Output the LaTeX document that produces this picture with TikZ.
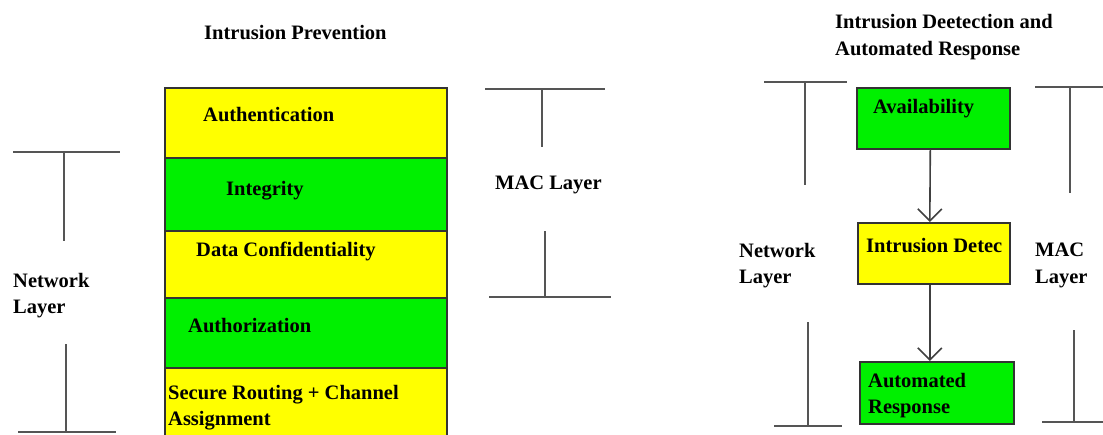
\documentclass[tikz,border=0pt]{standalone}
\usepackage{fontspec}
\setmainfont{Liberation Serif}
\usetikzlibrary{arrows.meta}
\definecolor{layeryellow}{RGB}{255,255,0}
\definecolor{layergreen}{RGB}{0,240,0}
\definecolor{bracketgray}{RGB}{85,85,85}
\begin{document}
\begin{tikzpicture}[x=1pt,y=-1pt,
  lbl/.style={font=\fontsize{20.5}{27}\selectfont\bfseries, inner sep=0pt, anchor=base west, align=left},
  layer/.style={draw=black!80, line width=1.6pt, inner sep=0pt, anchor=north west, minimum width=282pt},
  stepbox/.style={draw=black!80, line width=1.6pt, inner sep=0pt, anchor=north west},
  brk/.style={draw=bracketgray, line width=1.6pt},
  arr/.style={draw=black!75, line width=1.6pt, -{Straight Barb[length=12pt,width=24pt,line width=1.6pt]}}]
\clip (0,0) rectangle (1103,434);
\fill[white] (0,0) rectangle (1103,434);

% ---- Intrusion prevention stack ----
\node[lbl] (tprev) at (204,39) {Intrusion Prevention};
\node[layer, fill=layeryellow, minimum height=70pt] (auth)  at (164,87)  {};
\node[layer, fill=layergreen,  minimum height=73pt] (integ) at (164,157) {};
\node[layer, fill=layeryellow, minimum height=67pt] (conf)  at (164,230) {};
\node[layer, fill=layergreen,  minimum height=70pt] (authz) at (164,297) {};
\node[layer, fill=layeryellow, minimum height=80pt] (route) at (164,367) {};
\node[lbl] (tauth)  at (203,121) {Authentication};
\node[lbl] (tinteg) at (226,195) {Integrity};
\node[lbl] (tconf)  at (196,256) {Data Confidentiality};
\node[lbl] (tauthz) at (188,332) {Authorization};
\node[lbl] (troute) at (168,399) {Secure Routing + Channel};
\node[lbl] (troute2) at (168,425) {Assignment};

% network layer bracket (left)
\node[lbl] (netl) at (13,287) {Network};
\node[lbl] (netl2) at (13,313) {Layer};
\draw[brk] (13,152) -- (120,152);
\draw[brk] (64,152) -- (64,241);
\draw[brk] (66,344) -- (66,432);
\draw[brk] (18,432) -- (116,432);

% MAC layer bracket (left)
\node[lbl] (macl) at (495,189) {MAC Layer};
\draw[brk] (485,89) -- (605,89);
\draw[brk] (542,89) -- (542,147);
\draw[brk] (545,231) -- (545,297);
\draw[brk] (489,297) -- (611,297);

% ---- Intrusion detection and response ----
\node[lbl] (tdet) at (835,28) {Intrusion Deetection and};
\node[lbl] (tdet2) at (835,55) {Automated Response};
\node[stepbox, fill=layergreen,  minimum width=153pt, minimum height=61pt] (avail) at (856,87) {};
\node[stepbox, fill=layeryellow, minimum width=152pt, minimum height=61pt] (detec) at (857,222) {};
\node[stepbox, fill=layergreen,  minimum width=154pt, minimum height=62pt] (auto)  at (859,361) {};
\node[lbl] (tavail) at (873,113) {Availability};
\node[lbl] (tdetec) at (866,252) {Intrusion Detec};
\node[lbl] (tauto)  at (868,387) {Automated};
\node[lbl] (tauto2) at (868,413) {Response};
\draw[arr] ([xshift=-3pt]avail.south) -- ([xshift=-4pt]detec.north);
\draw[arr] ([xshift=-4pt]detec.south) -- ([xshift=-7pt]auto.north);

% network layer bracket (right)
\node[lbl] (netr) at (739,257) {Network};
\node[lbl] (netr2) at (739,283) {Layer};
\draw[brk] (764,82) -- (847,82);
\draw[brk] (805,82) -- (805,185);
\draw[brk] (808,322) -- (808,426);
\draw[brk] (774,426) -- (842,426);

% MAC layer bracket (right)
\node[lbl] (macr) at (1035,256) {MAC};
\node[lbl] (macr2) at (1035,283) {Layer};
\draw[brk] (1035,87) -- (1103,87);
\draw[brk] (1070,87) -- (1070,193);
\draw[brk] (1074,330) -- (1074,422);
\draw[brk] (1042,422) -- (1103,422);
\end{tikzpicture}
\end{document}
